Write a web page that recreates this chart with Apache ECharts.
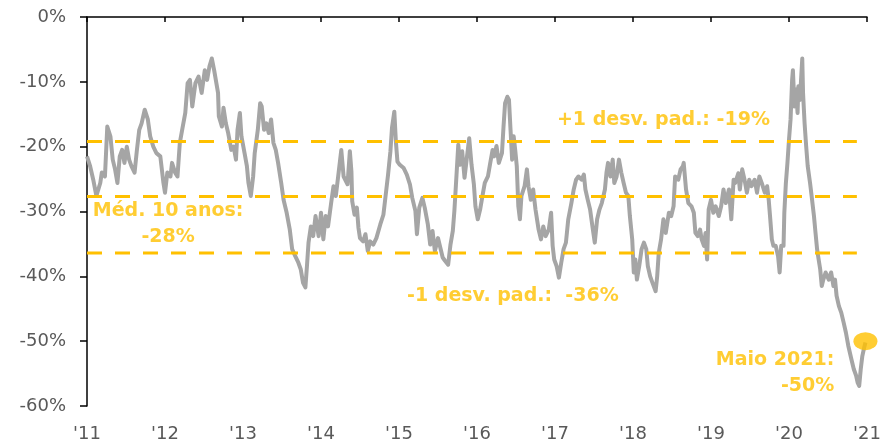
<!DOCTYPE html>
<html>
<head>
<meta charset="utf-8">
<script src="https://cdn.jsdelivr.net/npm/echarts@6/dist/echarts.min.js"></script>
<style>
html,body{margin:0;padding:0;background:#fff;}
#chart{width:884px;height:443px;}
</style>
</head>
<body>
<div id="chart"></div>
<script>
// ---- data (decimal year, valuation gap %) ----
var dates = [
2011.00,2011.04,2011.08,2011.12,2011.17,2011.19,2011.23,2011.26,2011.30,2011.33,2011.36,2011.39,2011.42,2011.45,2011.48,2011.51,2011.54,2011.57,2011.61,2011.64,2011.67,2011.70,2011.74,2011.78,2011.81,2011.85,2011.89,2011.94,2011.98,
2012.00,2012.03,2012.07,2012.09,2012.13,2012.16,2012.19,2012.22,2012.26,2012.29,2012.32,2012.35,2012.39,2012.43,2012.47,2012.51,2012.54,2012.57,2012.60,2012.63,
2012.68,2012.69,2012.73,2012.75,2012.78,2012.81,2012.85,2012.88,2012.91,2012.93,2012.96,2012.98,
2013.02,2013.05,2013.07,2013.10,2013.13,2013.15,2013.19,2013.22,2013.24,2013.27,2013.30,2013.33,2013.36,2013.39,2013.42,2013.45,2013.49,2013.52,2013.56,2013.60,2013.63,2013.67,2013.71,2013.74,2013.77,2013.80,2013.82,2013.84,2013.87,2013.90,2013.93,2013.97,
2014.00,2014.03,2014.06,2014.09,2014.13,2014.16,2014.19,2014.22,2014.26,2014.29,
2014.31,2014.34,2014.37,2014.39,2014.40,2014.43,2014.46,2014.48,2014.50,2014.54,2014.57,2014.60,2014.63,2014.67,2014.71,2014.76,2014.80,2014.83,2014.86,2014.89,2014.91,2014.94,2014.96,2014.98,
2015.01,2015.06,2015.10,2015.14,2015.17,2015.21,2015.23,2015.26,2015.30,2015.33,2015.37,2015.40,2015.43,2015.46,2015.50,2015.53,2015.56,2015.59,2015.63,2015.66,2015.69,2015.71,2015.74,2015.76,2015.78,2015.81,2015.84,2015.87,2015.90,2015.93,2015.96,
2015.98,2016.01,2016.04,2016.07,2016.10,2016.14,2016.17,2016.20,2016.22,2016.25,2016.28,2016.32,2016.34,2016.36,2016.39,2016.41,2016.43,2016.45,2016.47,2016.49,2016.51,2016.53,2016.55,2016.57,2016.61,2016.64,2016.66,2016.69,2016.72,2016.75,2016.79,2016.82,2016.85,2016.88,2016.92,2016.95,2016.97,2016.99,
2017.02,2017.05,2017.08,2017.11,2017.14,2017.17,2017.21,2017.24,2017.27,2017.30,2017.34,2017.37,2017.39,2017.42,2017.45,2017.48,2017.51,2017.54,2017.57,2017.60,2017.64,2017.66,
2017.68,2017.71,2017.74,2017.76,2017.79,2017.82,2017.85,2017.88,2017.91,2017.94,2017.96,2017.99,
2018.01,2018.03,2018.05,2018.08,2018.11,2018.14,2018.17,2018.19,2018.22,2018.25,2018.29,2018.31,2018.33,2018.36,2018.39,2018.42,2018.46,2018.49,2018.52,2018.54,2018.58,2018.61,2018.64,2018.65,2018.68,2018.71,2018.75,2018.78,2018.80,2018.83,2018.86,2018.88,2018.91,2018.93,2018.95,2018.97,
2019.00,2019.03,2019.06,2019.10,2019.13,2019.16,2019.19,2019.23,2019.26,2019.29,
2019.31,2019.35,2019.37,2019.40,2019.43,2019.46,2019.49,2019.52,2019.56,2019.59,2019.62,2019.65,2019.69,2019.72,2019.74,2019.76,2019.78,2019.80,2019.83,2019.86,2019.88,2019.90,2019.93,2019.94,2019.96,2019.98,
2020.00,2020.02,2020.04,2020.05,2020.07,2020.09,2020.11,2020.12,2020.14,2020.17,2020.18,2020.20,2020.22,2020.24,2020.27,2020.29,2020.32,2020.34,2020.36,2020.38,2020.40,2020.42,2020.44,2020.47,2020.51,2020.54,2020.57,2020.59,2020.61,2020.64,2020.67,2020.70,2020.73,2020.76,2020.80,2020.83,2020.86,2020.88,2020.90,2020.92,2020.94,2020.96,2020.98
];
var values = [
-21.5,-23.0,-25.1,-27.6,-25.6,-24.0,-24.6,-16.9,-18.4,-22.0,-23.5,-25.6,-21.5,-20.5,-22.5,-20.0,-22.0,-23.0,-24.0,-20.5,-17.4,-16.4,-14.3,-15.8,-18.4,-20.0,-21.0,-21.5,-25.6,
-27.1,-24.0,-24.6,-22.5,-24.0,-24.6,-19.4,-17.4,-14.8,-10.2,-9.7,-13.8,-10.2,-9.2,-11.7,-8.2,-9.7,-7.6,-6.4,-8.2,
-11.7,-15.3,-16.9,-14.0,-16.4,-17.9,-20.5,-20.0,-22.0,-17.4,-14.8,-18.4,
-21.0,-23.0,-25.6,-27.6,-24.6,-21.0,-17.4,-13.3,-13.8,-17.4,-16.4,-17.9,-15.8,-19.4,-20.5,-22.5,-25.6,-28.2,-30.2,-32.8,-35.8,-36.9,-37.9,-38.9,-41.0,-41.7,-38.4,-34.8,-32.3,-33.8,-30.7,-33.8,
-30.2,-34.3,-30.7,-32.3,-28.7,-26.1,-27.6,-24.6,-20.5,-24.6,
-24.3,-25.8,-20.7,-23.8,-28.4,-30.5,-29.4,-32.5,-34.1,-34.6,-33.5,-36.1,-34.6,-35.1,-34.1,-32.0,-30.5,-27.4,-24.3,-20.7,-17.1,-14.6,-19.2,-22.3,
-22.8,-23.3,-24.3,-25.8,-27.9,-29.9,-33.5,-29.4,-27.9,-29.4,-32.0,-35.1,-33.0,-36.1,-34.1,-35.6,-37.1,-37.6,-38.2,-35.1,-33.0,-29.9,-23.8,-19.7,-22.8,-20.7,-24.8,-21.7,-18.7,-22.8,-25.8,
-29.2,-31.2,-29.7,-27.6,-25.6,-24.6,-22.5,-20.5,-21.5,-19.9,-22.5,-21.0,-16.9,-13.3,-12.3,-12.8,-17.4,-22.0,-18.4,-20.5,-23.0,-29.2,-31.2,-27.6,-26.1,-23.5,-26.1,-28.2,-26.6,-29.7,-32.8,-34.3,-32.3,-33.8,-32.8,-30.2,-35.3,-37.4,
-38.4,-40.2,-37.9,-35.8,-34.8,-31.2,-28.7,-26.6,-25.1,-24.6,-25.1,-24.3,-26.6,-28.2,-29.7,-32.3,-34.8,-31.2,-29.7,-28.7,-26.6,-24.0,
-22.5,-24.6,-22.0,-25.6,-24.6,-22.0,-24.0,-25.6,-27.1,-27.6,-30.7,-34.3,
-39.4,-37.4,-40.5,-38.4,-35.8,-34.8,-35.8,-38.4,-40.0,-41.0,-42.3,-40.0,-36.4,-34.3,-31.2,-33.3,-30.2,-30.7,-29.2,-24.6,-25.1,-23.5,-23.0,-22.5,-26.6,-28.7,-29.2,-30.2,-33.3,-33.8,-32.8,-34.3,-35.3,-33.3,-37.4,-29.7,
-28.2,-30.2,-29.2,-30.7,-29.2,-26.6,-28.7,-26.6,-31.2,-25.1,
-25.6,-24.1,-26.6,-23.5,-25.1,-27.1,-25.1,-26.1,-25.1,-27.1,-24.6,-25.6,-27.1,-26.1,-28.2,-31.2,-34.3,-35.3,-35.3,-36.9,-39.4,-35.3,-35.3,-30.2,-25.6,-22.5,
-18.9,-15.8,-9.7,-8.2,-13.8,-11.2,-14.8,-10.7,-12.8,-6.4,-11.7,-16.4,-19.9,-23.0,-25.6,-27.6,-30.7,-33.3,-35.8,-37.4,-38.9,-41.5,-40.5,-39.4,-40.5,-39.4,-41.5,-40.5,-43.0,-44.6,-45.6,-47.1,-48.7,-50.7,-52.8,-54.3,-55.3,-56.4,-56.9,-54.3,-52.3,-51.2,-50.2
];
var bandLevels = { plus1: -19.2, mean: -27.7, minus1: -36.4 };
var bandStart = 2011.0, bandEnd = 2020.87;
var lastPoint = [2020.98, -50.0];
var annotationTexts = {
  plus1: '+1 desv. pad.: -19%',
  mean: 'Méd. 10 anos:\n-28%',
  minus1: '-1 desv. pad.:  -36%',
  last: 'Maio 2021:\n-50%'
};

// ---- build ----
var GOLD = '#FFC000';
var lineData = dates.map(function(d, i){ return [d, values[i]]; });
function band(level){ return [[bandStart, level], [bandEnd, level]]; }
function dashSeries(level){
  return {
    type: 'line', data: band(level), symbol: 'none', silent: true, z: 4,
    lineStyle: { color: GOLD, width: 3, type: [15, 13] }
  };
}
var textBase = { color: GOLD, fontFamily: 'DejaVu Sans', fontWeight: 'bold', fontSize: 19, lineHeight: 26 };

var chart = echarts.init(document.getElementById('chart'), null, { renderer: 'canvas' });
chart.setOption({
  animation: false,
  backgroundColor: '#ffffff',
  grid: { left: 87, right: 17, top: 17, bottom: 36, containLabel: false },
  xAxis: [
    {
      type: 'value', position: 'top', min: 2011, max: 2021, interval: 1,
      axisLine: { show: true, onZero: false, lineStyle: { color: '#000', width: 1.5 } },
      axisTick: { show: true, inside: true, length: 5, lineStyle: { color: '#000', width: 1.5 } },
      axisLabel: { show: false }, splitLine: { show: false }
    },
    {
      type: 'value', position: 'bottom', min: 2011, max: 2021, interval: 1,
      axisLine: { show: false, onZero: false }, axisTick: { show: false }, splitLine: { show: false },
      axisLabel: {
        show: true, margin: 19, color: '#595959', fontFamily: 'DejaVu Sans', fontSize: 18,
        formatter: function(v){ return "'" + String(v).slice(2); }
      }
    }
  ],
  yAxis: {
    type: 'value', min: -60, max: 0, interval: 10,
    axisLine: { show: true, onZero: false, lineStyle: { color: '#000', width: 1.5 } },
    axisTick: { show: true, length: 7, lineStyle: { color: '#000', width: 1.5 } },
    splitLine: { show: false },
    axisLabel: { margin: 21, color: '#595959', fontFamily: 'DejaVu Sans', fontSize: 18,
      formatter: function(v){ return v + '%'; } }
  },
  series: [
    {
      type: 'line', data: lineData, symbol: 'none', z: 3,
      lineStyle: { color: '#A5A5A5', width: 4, join: 'round' }
    },
    dashSeries(bandLevels.plus1),
    dashSeries(bandLevels.mean),
    dashSeries(bandLevels.minus1),
    {
      type: 'scatter', data: [lastPoint], symbol: 'circle', symbolSize: [24, 18], z: 6,
      itemStyle: { color: GOLD }
    },
    {
      type: 'scatter', symbolSize: 0, z: 7, silent: true,
      data: [
        { value: [2018.39, -15.85], label: Object.assign({ show: true, position: 'inside', formatter: annotationTexts.plus1 }, textBase) },
        { value: [2012.04, -32.0], label: Object.assign({ show: true, position: 'inside', align: 'center', formatter: annotationTexts.mean }, textBase) },
        { value: [2016.46, -43.08], label: Object.assign({ show: true, position: 'inside', formatter: annotationTexts.minus1 }, textBase) },
        { value: [2020.58, -54.85], label: Object.assign({ show: true, position: 'left', distance: 0, align: 'right', formatter: annotationTexts.last }, textBase) }
      ]
    }
  ]
});
</script>
</body>
</html>
